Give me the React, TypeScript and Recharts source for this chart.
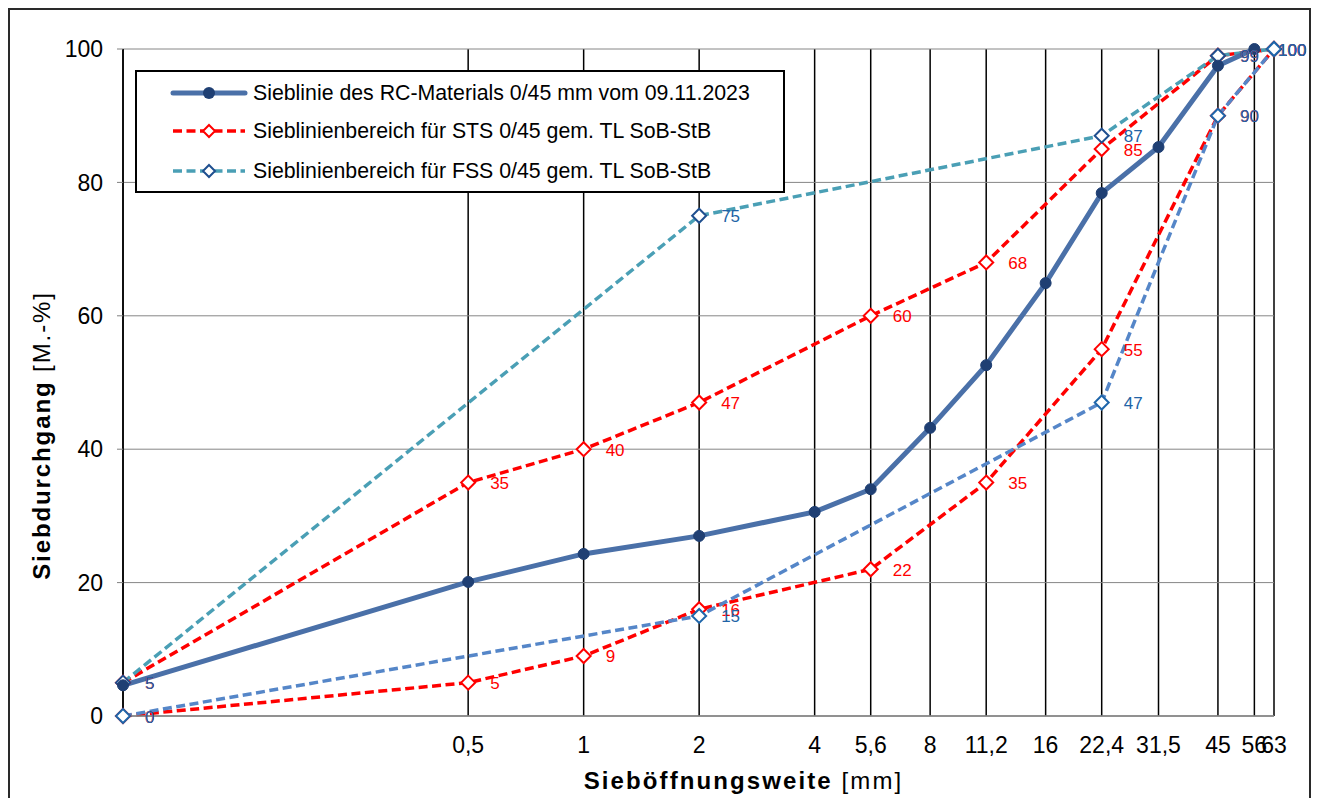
import React from 'react';
import { LineChart, Line, XAxis, YAxis, CartesianGrid, LabelList } from 'recharts';

// Sieve sizes (mm)
const rcSieves = [0.063, 0.5, 1, 2, 4, 5.6, 8, 11.2, 16, 22.4, 31.5, 45, 56];
const rcValues = [4.6, 20.1, 24.3, 27.0, 30.6, 34.0, 43.2, 52.6, 64.9, 78.4, 85.3, 97.5, 100];

const stsSieves = [0.063, 0.5, 1, 2, 5.6, 11.2, 22.4, 45, 63];
const stsUpper = [5, 35, 40, 47, 60, 68, 85, 99, 100];
const stsLower = [0, 5, 9, 16, 22, 35, 55, 90, 100];

const fssSieves = [0.063, 2, 22.4, 45, 63];
const fssUpper = [5, 75, 87, 99, 100];
const fssLower = [0, 15, 47, 90, 100];

const xTicks = [0.5, 1, 2, 4, 5.6, 8, 11.2, 16, 22.4, 31.5, 45, 56, 63];
const yTicks = [0, 20, 40, 60, 80, 100];

const legendLabels = [
  'Sieblinie des RC-Materials 0/45 mm vom 09.11.2023',
  'Sieblinienbereich für STS 0/45 gem. TL SoB-StB',
  'Sieblinienbereich für FSS 0/45 gem. TL SoB-StB',
];

const toPoints = (xs: number[], ys: number[]) => xs.map((x, i) => ({ x, y: ys[i] }));

const rcData = toPoints(rcSieves, rcValues);
const stsUpperData = toPoints(stsSieves, stsUpper);
const stsLowerData = toPoints(stsSieves, stsLower);
const fssUpperData = toPoints(fssSieves, fssUpper);
const fssLowerData = toPoints(fssSieves, fssLower);

const FONT = '"Liberation Sans", Arial, sans-serif';

const RC_LINE = '#4A70A8';
const RC_DOT = '#1F3F73';
const RED = '#FF0000';
const TEAL = '#4A9FB5';
const BLUE_LINE = '#5586C8';
const FSS_UP_MARK = '#1F4F8F';
const FSS_LO_MARK = '#1F66AA';
const FSS_LABEL = '#2163A6';
const DASH = '9 4.5';

const CHART_W = 1299;
const CHART_H = 788;

const diamond = (stroke: string, r = 7) => (props: any) => {
  const { cx, cy, index } = props;
  if (cx == null || cy == null) return <g key={`n-${index}`} />;
  return (
    <path
      key={`d-${stroke}-${index}`}
      d={`M${cx},${cy - r} L${cx + r},${cy} L${cx},${cy + r} L${cx - r},${cy} Z`}
      fill="#fff"
      stroke={stroke}
      strokeWidth={2}
    />
  );
};

const valueLabel = (color: string) => (props: any) => {
  const { x, y, value, index } = props;
  const lx = Math.min(x + 22, CHART_W - 31);
  return (
    <text
      key={`l-${color}-${index}`}
      x={lx}
      y={y + 1}
      fill={color}
      fontSize={17}
      fontFamily={FONT}
      dominantBaseline="central"
    >
      {value}
    </text>
  );
};

const fmt = (v: number) => String(v).replace('.', ',');

const LegendBox = () => {
  const rows = [
    { stroke: RC_LINE, width: 5, dash: undefined, marker: 'dot', mstroke: RC_DOT },
    { stroke: RED, width: 3.5, dash: DASH, marker: 'diamond', mstroke: RED },
    { stroke: TEAL, width: 3.5, dash: DASH, marker: 'diamond', mstroke: FSS_UP_MARK },
  ];
  return (
    <div
      style={{
        width: 650,
        height: 123,
        boxSizing: 'border-box',
        border: '2px solid #000',
        background: '#fff',
        position: 'relative',
        fontFamily: FONT,
      }}
    >
      {rows.map((r, i) => (
        <div key={i} style={{ position: 'absolute', left: 0, top: [23, 61, 101][i] - 2 - 14, height: 28, display: 'flex', alignItems: 'center' }}>
          <svg width={116} height={28} style={{ display: 'block' }}>
            <line x1={36} y1={14} x2={108} y2={14} stroke={r.stroke} strokeWidth={r.width} strokeDasharray={r.dash} strokeLinecap={r.dash ? 'butt' : 'round'} />
            {r.marker === 'dot' ? (
              <circle cx={72} cy={14} r={6} fill={r.mstroke} />
            ) : (
              <path d="M72,8 L78,14 L72,20 L66,14 Z" fill="#fff" stroke={r.mstroke} strokeWidth={2} />
            )}
          </svg>
          <span style={{ fontSize: 21.3, color: '#000', whiteSpace: 'nowrap' }}>{legendLabels[i]}</span>
        </div>
      ))}
    </div>
  );
};

export default function App() {
  return (
    <div
      style={{
        position: 'relative',
        width: CHART_W + 4,
        height: 800,
        boxSizing: 'border-box',
        borderLeft: '2px solid #2a2a2a',
        borderTop: '2px solid #2a2a2a',
        borderRight: '2px solid #2a2a2a',
        fontFamily: FONT,
      }}
    >
      <LineChart width={CHART_W} height={CHART_H} margin={{ top: 39, right: 35, left: 0, bottom: 0 }}>
        <CartesianGrid horizontal={false} vertical stroke="#000" strokeWidth={1.5} />
        <CartesianGrid horizontal vertical={false} stroke="#868686" strokeWidth={1} />
        <XAxis
          dataKey="x"
          type="number"
          scale="log"
          domain={[0.063, 63]}
          ticks={xTicks}
          interval={0}
          tickFormatter={fmt}
          tickLine={false}
          tickSize={0}
          tickMargin={21}
          height={82}
          axisLine={{ stroke: '#808080', strokeWidth: 1.5 }}
          tick={{ fill: '#000', fontSize: 23, fontFamily: FONT }}
          label={{
            content: (p: any) => {
              const vb = p.viewBox;
              return (
                <text x={vb.x + vb.width / 2 + 45} y={vb.y + 73} textAnchor="middle" fontFamily={FONT} fontSize={24} fill="#000" letterSpacing={2.1}>
                  <tspan fontWeight="bold">Sieböffnungsweite</tspan>
                  <tspan> [mm]</tspan>
                </text>
              );
            },
          }}
        />
        <YAxis
          type="number"
          domain={[0, 100]}
          ticks={yTicks}
          interval={0}
          width={113}
          tickSize={6}
          tickMargin={14}
          tickLine={{ stroke: '#808080' }}
          axisLine={{ stroke: '#000', strokeWidth: 1.5 }}
          tick={{ fill: '#000', fontSize: 23, fontFamily: FONT }}
          label={{
            content: (p: any) => {
              const vb = p.viewBox;
              const cx = 31;
              const cy = vb.y + vb.height / 2 + 53;
              return (
                <text x={cx} y={cy} transform={`rotate(-90 ${cx} ${cy})`} textAnchor="middle" dominantBaseline="central" fontFamily={FONT} fontSize={24} fill="#000" letterSpacing={1.9}>
                  <tspan fontWeight="bold">Siebdurchgang</tspan>
                  <tspan> [M.-%]</tspan>
                </text>
              );
            },
          }}
        />
        <Line data={stsUpperData} dataKey="y" stroke={RED} strokeWidth={3.5} strokeDasharray={DASH} dot={diamond(RED)} isAnimationActive={false} legendType="none">
          <LabelList dataKey="y" content={valueLabel(RED)} />
        </Line>
        <Line data={stsLowerData} dataKey="y" stroke={RED} strokeWidth={3.5} strokeDasharray={DASH} dot={diamond(RED)} isAnimationActive={false} legendType="none">
          <LabelList dataKey="y" content={valueLabel(RED)} />
        </Line>
        <Line data={fssUpperData} dataKey="y" stroke={TEAL} strokeWidth={3.5} strokeDasharray={DASH} dot={diamond(FSS_UP_MARK)} isAnimationActive={false} legendType="none">
          <LabelList dataKey="y" content={valueLabel(FSS_LABEL)} />
        </Line>
        <Line data={fssLowerData} dataKey="y" stroke={BLUE_LINE} strokeWidth={3.5} strokeDasharray={DASH} dot={diamond(FSS_LO_MARK)} isAnimationActive={false} legendType="none">
          <LabelList dataKey="y" content={valueLabel(FSS_LABEL)} />
        </Line>
        <Line
          data={rcData}
          dataKey="y"
          stroke={RC_LINE}
          strokeWidth={5}
          dot={{ r: 5.5, fill: RC_DOT, stroke: RC_DOT, strokeWidth: 1 }}
          isAnimationActive={false}
          legendType="none"
        />
      </LineChart>
      <div style={{ position: 'absolute', left: 125, top: 60 }}>
        <LegendBox />
      </div>
    </div>
  );
}
